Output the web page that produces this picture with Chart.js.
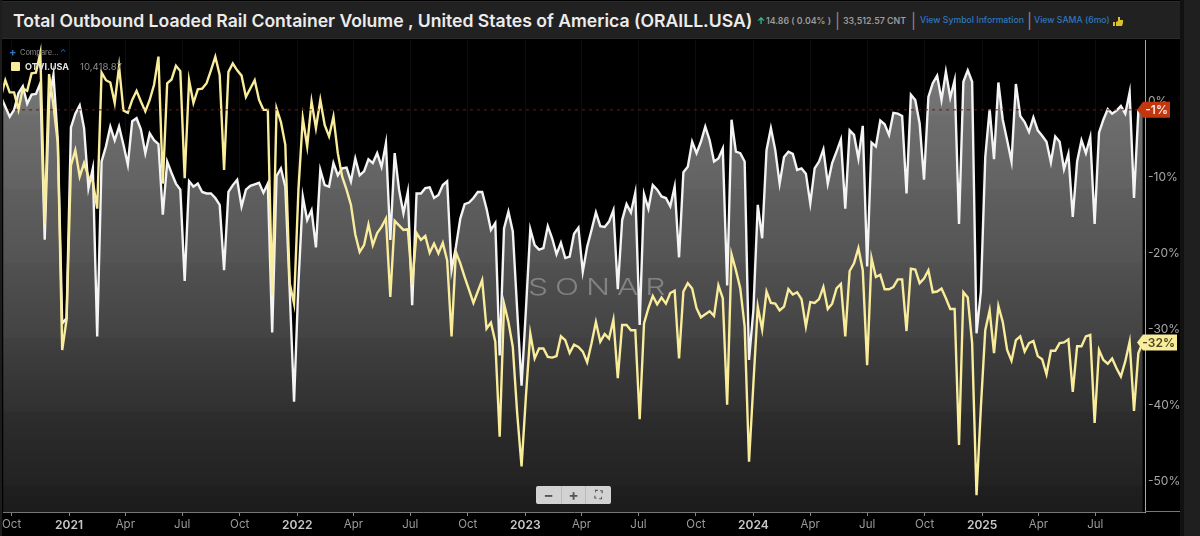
<!DOCTYPE html>
<html>
<head>
<meta charset="utf-8">
<title>ORAILL.USA</title>
<script src="https://cdn.jsdelivr.net/npm/chart.js@4"></script>
<style>
    html, body { margin: 0; padding: 0; width: 1200px; height: 536px; overflow: hidden; background: #000; font-family: Inter, sans-serif; }
    #chart { position: absolute; left: 0; top: 0; }
    .side-l { position: absolute; left: 0; top: 0; width: 2px; height: 536px; background: #1c1c1c; }
    .side-r { position: absolute; left: 1184px; top: 0; width: 16px; height: 536px; background: #1f1f1f; }
    .side-m { position: absolute; left: 1180px; top: 0; width: 4px; height: 536px; background: #111; }
    .axis-end { position: absolute; left: 1145px; top: 511px; width: 35px; height: 1px; background: #777; }
    #header { position: absolute; left: 2px; top: 1px; width: 1178px; height: 38px; background: #212121; border: 1px solid #2b2b2b; border-left: 0; border-right: 0; box-sizing: border-box; }
    #header span { position: absolute; top: 0; line-height: 37px; white-space: nowrap; }
    #title { left: 11px; color: #ececec; font-size: 17.6px; font-weight: 600; }
    .meta { color: #9b9b9b; font-size: 8.8px; font-weight: 600; }
    .link { color: #2f78bd; font-size: 8.7px; font-weight: 500; }
    .sep { color: #8a8a8a; font-size: 15px; }
    #legend { position: absolute; left: 0; top: 40px; width: 140px; height: 40px; }
    #legend span, #legend i { position: absolute; white-space: nowrap; font-style: normal; }
    #watermark { position: absolute; left: 528px; top: 270px; color: rgba(255, 255, 255, 0.3); font-size: 23px; font-weight: 300; letter-spacing: 5px; line-height: 34px; transform: scaleX(1.38); transform-origin: left center; }
    #zoom { position: absolute; left: 536px; top: 486px; width: 75px; height: 18px; background: #d2d2d2; border-radius: 2px; color: #555; font-size: 15px; font-weight: 700; line-height: 17px; }
    #zoom span { position: absolute; top: 0; width: 25px; height: 18px; text-align: center; box-sizing: border-box; }
</style>
</head>
<body>
<canvas id="chart" width="1200" height="536"></canvas>
<div class="side-l"></div>
<div class="side-m"></div>
<div class="side-r"></div>
<div class="axis-end"></div>
<div id="header">
    <span id="title">Total Outbound Loaded Rail Container Volume , United States of America (ORAILL.USA)</span>
    <span style="left:755px;color:#35c08e;font-size:9px;font-weight:700">&#8593;</span>
    <span class="meta" style="left:764px">14.86 ( 0.04% )</span>
    <span class="sep" style="left:833px">|</span>
    <span class="meta" style="left:841px">33,512.57 CNT</span>
    <span class="sep" style="left:909px">|</span>
    <span class="link" style="left:918px">View Symbol Information</span>
    <span class="sep" style="left:1025px">|</span>
    <span class="link" style="left:1032px">View SAMA (6mo)</span>
    <svg style="position:absolute;left:1110px;top:13px" width="12" height="12" viewBox="0 0 12 12"><path d="M1 7h2v4H1zM4 7l2-1V2l2 0v3h3v3l-1 3H4z" fill="#d8c42a"/></svg>
</div>
<div id="legend">
    <span style="left:9px;top:6px;color:#2f78bd;font-size:11px;font-weight:700;line-height:12px">+</span>
    <span style="left:20px;top:8px;color:#8c8c8c;font-size:7.4px">Compare...</span>
    <span style="left:60px;top:7px;color:#2f78bd;font-size:8px">&#8963;</span>
    <i style="left:11px;top:22px;width:9px;height:9px;background:#f9ec9b;border-radius:1px"></i>
    <span style="left:25px;top:21px;color:#e4e4e4;font-size:9px;font-weight:700">OTVI.USA</span>
    <span style="left:80px;top:21px;color:#8c8c8c;font-size:9.6px">10,418.87</span>
</div>
<div id="watermark">SONAR</div>
<div id="zoom">
    <span style="left:0">&#8722;</span>
    <span style="left:25px;border-left:1px solid #bbb;border-right:1px solid #bbb">+</span>
    <span style="left:50px;font-size:10px">&#9974;</span>
</div>
<script>
// values, % vs SAMA, one per week
const orailValues = [
    0.6, -0.7, -2.0, -1.1, 1.1, 2.0, -0.3, 0.9, 1.0, 2.4,
    -18.2, 0.2, 3.5, -5.1, -29.2, -28.5, -3.4, -1.6, -0.5, -3.5,
    -11.4, -8.8, -30.9, -7.9, -5.9, -3.3, -5.1, -3.3, -5.7, -8.3,
    -2.6, -2.2, -3.7, -6.8, -4.2, -5.1, -5.6, -14.9, -7.9, -9.4,
    -10.8, -11.6, -23.6, -10.5, -11.2, -10.8, -11.9, -12.1, -12.1, -12.7,
    -13.6, -22.2, -11.9, -11, -10.3, -13.8, -11.6, -11.1, -10.9, -10.7,
    -12, -10.8, -30.4, -9.8, -8.8, -11.2, -24.8, -39.5, -23.9, -12.5,
    -15.6, -14.3, -19.2, -9, -11, -11.2, -8.1, -9.7, -8.8, -8.7,
    -10.5, -7.5, -9.7, -9.2, -7.6, -8.1, -6.8, -8.6, -5.5, -18.2,
    -6.8, -11.6, -14.7, -11.9, -26.8, -12.1, -12.1, -11.4, -11.3, -12.7,
    -12.3, -11, -10.5, -22.2, -19.1, -15.4, -13.5, -13.3, -12.7, -11.9,
    -11.9, -14.1, -16.9, -16, -33.4, -16.7, -14.5, -17.1, -27.4, -37.4,
    -27.4, -16.8, -18.9, -19.5, -19.3, -16.4, -18, -20.1, -18.6, -20.6,
    -20.4, -17.4, -16.6, -22.4, -19.1, -16.9, -14.6, -16.4, -16.5, -15.8,
    -14.3, -24.7, -15.6, -13.5, -14.6, -12, -29.4, -12.2, -14.1, -11,
    -11.6, -12.5, -12.7, -13.8, -11.2, -20.5, -9.3, -8.6, -5.3, -6.8,
    -5.3, -3.3, -5.1, -7.9, -7.5, -6.2, -24.2, -2.4, -6.6, -6.8,
    -7.9, -34, -27.4, -13.6, -18, -6.4, -3.5, -6.4, -10.8, -7.3,
    -6.6, -6.9, -9, -8.8, -9.5, -13.4, -8.8, -7.9, -6.3, -10.8,
    -8.1, -6.6, -5, -14.1, -3.8, -4.4, -7.5, -3.2, -21.7, -5.4,
    -5.9, -2.5, -3, -4.4, -1.5, -1.6, -1.9, -12.1, 0.9, 0.2,
    -2.9, -10.3, 0.6, 2.4, 3.4, 0.2, 3.9, 0.5, 2.8, -16.1,
    2.6, 4.1, 2.6, -30.5, -25, -7.3, -1, -7.6, 2.5, -2.4,
    -5.1, -7.9, 2.3, -1.9, -2.7, -4, -2.1, -3.8, -4.5, -5.3,
    -8, -4.6, -5.3, -8.9, -6.9, -15.2, -7.9, -5.1, -6.8, -4.7,
    -16.1, -4.1, -2.4, -1, -1.6, -1.2, -0.6, -1.6, 1.2, -12.7,
    -1.2, -1.1
];

const otviValues = [
    0.6, 2.8, 1.2, 1.2, -1.1, 1.7, 1.4, 3.7, 3.8, 6.4,
    -16.2, 3.6, -0.5, -5.5, -32.7, -28.7, -8.4, -6.4, -9.9, -8.1,
    -9.9, -10.5, -14.1, 3.8, 2.8, 2.5, -0.2, 4.6, -1.2, -1.5,
    0.2, 1.4, 0, -1.3, 0.2, 2.2, 5.9, -10.8, 2.4, 2.9,
    4.7, 4, -10.1, 2.8, -0.2, 1.6, 1.7, 2.4, 4.1, 5.9,
    3.5, -9, 3.9, 5, 4.1, 3.4, 0.6, 1.7, 2.8, 0.2,
    -1.1, -1.1, -25.5, -0.9, -2.7, -5.7, -23.9, -26.6, -11.6, -2.2,
    -5.9, 0, -3.5, 0.2, -3.1, -4.6, -2, -6.8, -9.9, -11.6,
    -13.6, -17.5, -19.8, -18.9, -16.2, -18.9, -17.3, -16.5, -15.4, -25.7,
    -15.7, -16.3, -16.9, -16.8, -24.1, -17.3, -18.2, -17.7, -19.9, -18.7,
    -20, -18.6, -20.9, -30.9, -19.8, -21.3, -23.1, -24.8, -26.5, -25,
    -23.5, -29.9, -29.1, -31.6, -44.1, -26.6, -29, -32.3, -41, -48,
    -38.8, -30.5, -33.8, -32.5, -32.5, -33.6, -33.7, -33.5, -30.9, -31.4,
    -33.1, -32, -32.3, -32.9, -34.3, -31.8, -29, -31.6, -30.6, -31.2,
    -28.7, -36.4, -29.4, -29.4, -30.1, -30.1, -41.8, -29.2, -27.2, -25.6,
    -26.7, -25.8, -26.6, -25.2, -24.9, -33.8, -25, -23.9, -24.6, -27.2,
    -28.4, -28, -27.6, -28.2, -24.2, -25.9, -39.9, -20.1, -22.2, -24.6,
    -29.6, -47.4, -37.1, -27, -30, -25, -26.5, -26.6, -27.5, -27,
    -24.7, -25.4, -25.1, -26, -29.6, -26.4, -26.5, -26, -24.4, -27.3,
    -26.6, -24.6, -24, -30.9, -22.3, -21.3, -19.3, -22.2, -34.7, -20.6,
    -23.1, -22.8, -24.7, -24.7, -24.4, -23.4, -23.4, -30.2, -22, -22.1,
    -23.9, -23.3, -22.2, -25.1, -25, -24.6, -25.9, -27.3, -27.3, -45.2,
    -25.1, -25.8, -31.8, -51.8, -40.2, -30.1, -27.5, -33.1, -26.9, -29,
    -32.7, -34.1, -31.4, -30.9, -32.9, -31.8, -31.5, -33.5, -33.9, -35.9,
    -32.8, -32.8, -31.8, -31.7, -31.3, -38.2, -32.2, -32.2, -30.9, -30.7,
    -42.3, -32.7, -34, -34.5, -33.8, -35.1, -36.2, -34.2, -31.6, -40.7,
    -33.1, -31.7
];

// x axis is in days from 1 Jan 2021
const firstWeekDay = -109;
const xTickDays = [-92, 0, 90, 181, 273, 365, 455, 546, 638, 730, 820, 911, 1003, 1095, 1186, 1277, 1369, 1461, 1551, 1642];
const xTickLabels = ['Oct', '2021', 'Apr', 'Jul', 'Oct', '2022', 'Apr', 'Jul', 'Oct', '2023', 'Apr', 'Jul', 'Oct', '2024', 'Apr', 'Jul', 'Oct', '2025', 'Apr', 'Jul'];
const yTickValues = [0, -10, -20, -30, -40, -50];

const weekDays = orailValues.map((_, i) => firstWeekDay + i * 7);
const toPoints = values => values.map((v, i) => ({ x: weekDays[i], y: v }));

// the fill has faint horizontal bands, so each edge gets two stops
const fillStops = [
    [0, '#7c7c7c'], [0.159, '#707070'], [0.159, '#6d6d6d'], [0.316, '#626262'], [0.316, '#5f5f5f'],
    [0.472, '#545454'], [0.472, '#515151'], [0.631, '#434343'], [0.631, '#404040'],
    [0.788, '#303030'], [0.788, '#2d2d2d'], [0.945, '#222222'], [0.945, '#1f1f1f'], [1, '#1c1c1c']
];

function areaGradient(context) {
    const area = context.chart.chartArea;
    if (!area) return 'transparent';
    const g = context.chart.ctx.createLinearGradient(0, area.top, 0, area.bottom);
    fillStops.forEach(s => g.addColorStop(s[0], s[1]));
    return g;
}

// end-of-line value tags on the right axis
const endTags = {
    id: 'endTags',
    afterDraw(chart) {
        const c = chart.ctx;
        const y = chart.scales.y;
        [
            { values: otviValues, bg: '#f9ec9b', fg: '#4a4520', right: 1177 },
            { values: orailValues, bg: '#c2370f', fg: '#ffe9e0', right: 1170 }
        ].forEach(t => {
            const v = t.values[t.values.length - 1];
            const py = y.getPixelForValue(v);
            c.save();
            c.fillStyle = t.bg;
            c.beginPath();
            c.moveTo(1137, py);
            c.lineTo(1143, py - 8);
            c.lineTo(t.right, py - 8);
            c.lineTo(t.right, py + 8);
            c.lineTo(1143, py + 8);
            c.closePath();
            c.fill();
            c.fillStyle = t.fg;
            c.font = '600 12px Inter';
            c.textAlign = 'right';
            c.textBaseline = 'middle';
            c.fillText(Math.round(v) + '%', t.right - 2, py + 0.5);
            c.restore();
        });
    }
};

new Chart(document.getElementById('chart'), {
    type: 'line',
    data: {
        datasets: [
            {
                label: 'OTVI.USA',
                data: toPoints(otviValues),
                borderColor: '#f9ec9b',
                borderWidth: 2.4,
                pointRadius: 0,
                tension: 0,
                fill: false,
                order: 1
            },
            {
                label: 'ORAILL.USA',
                data: toPoints(orailValues),
                borderColor: '#f4f4f4',
                borderWidth: 2.4,
                backgroundColor: areaGradient,
                pointRadius: 0,
                tension: 0,
                fill: 'start',
                order: 2
            },
            {
                label: 'last',
                data: [{ x: firstWeekDay, y: -1.1 }, { x: 1722, y: -1.1 }],
                borderColor: '#6a1c10',
                borderWidth: 1,
                borderDash: [3, 4],
                pointRadius: 0,
                order: 0
            }
        ]
    },
    options: {
        responsive: false,
        animation: false,
        layout: { padding: { left: 2, top: 40, right: 0, bottom: 0 } },
        plugins: { legend: { display: false }, tooltip: { enabled: false } },
        scales: {
            x: {
                type: 'linear',
                min: -105.5,
                max: 1721.6,
                afterBuildTicks: scale => { scale.ticks = xTickDays.map(v => ({ value: v })); },
                afterFit: scale => { scale.height = 24; },
                border: { color: '#777', width: 1 },
                grid: { color: 'rgba(255,255,255,0.05)', tickColor: '#888', tickLength: 4 },
                ticks: {
                    autoSkip: false,
                    maxRotation: 0,
                    padding: 2,
                    color: ctx => (/^\d/.test(xTickLabels[ctx.index]) ? '#c8c8c8' : '#9a9a9a'),
                    font: ctx => (/^\d/.test(xTickLabels[ctx.index])
                        ? { family: 'Inter', size: 12, weight: '600' }
                        : { family: 'Inter', size: 11.5, weight: '400' }),
                    callback: (value, index) => xTickLabels[index]
                }
            },
            y: {
                position: 'right',
                min: -54.01,
                max: 8.09,
                afterBuildTicks: scale => { scale.ticks = yTickValues.map(v => ({ value: v })); },
                afterFit: scale => { scale.width = 55; },
                border: { color: '#a8a8a8', width: 1 },
                grid: { display: false, drawTicks: false },
                ticks: {
                    padding: 3,
                    color: '#a6a6a6',
                    font: { family: 'Inter', size: 12 },
                    callback: value => value + '%'
                }
            }
        }
    },
    plugins: [endTags]
});
</script>
</body>
</html>
